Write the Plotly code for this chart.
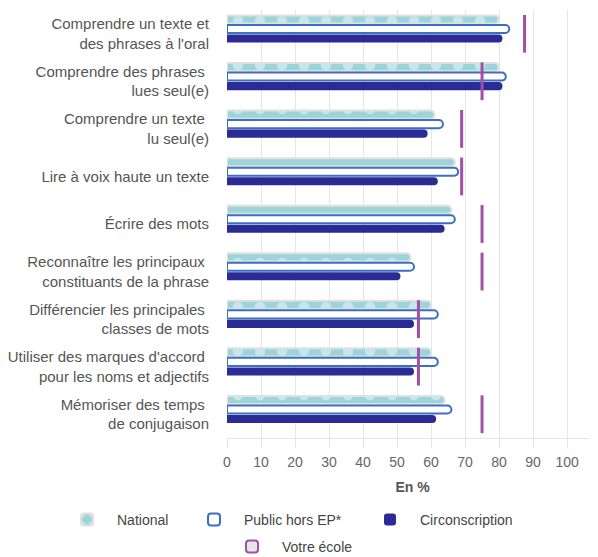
import plotly.graph_objects as go

categories = [
    "Comprendre un texte et<br>des phrases à l'oral",
    "Comprendre des phrases <br>lues seul(e)",
    "Comprendre un texte <br>lu seul(e)",
    "Lire à voix haute un texte",
    "Écrire des mots",
    "Reconnaître les principaux <br>constituants de la phrase",
    "Différencier les principales <br>classes de mots",
    "Utiliser des marques d'accord <br>pour les noms et adjectifs",
    "Mémoriser des temps <br>de conjugaison",
]
national = [80, 80, 61, 67, 66, 54, 60, 60, 64]
public_hors_ep = [83, 82, 63.5, 68, 67, 55, 62, 62, 66]
circonscription = [81, 81, 59, 62, 64, 51, 55, 55, 61.5]
votre_ecole = [87.5, 75, 69, 69, 75, 75, 56.3, 56.3, 75]
x_ticks = list(range(0, 101, 10))

TEAL = "#9dd4da"
BLUE = "#3b6fc3"
NAVY = "#2b2b95"
PURPLE = "#a24fa6"
GRID = "#e6e6e6"
TXT = "#555555"
# the page body adds an 8px offset; the figure fills the rest of the window
OFF = 8
W, H = 598 - OFF, 557 - OFF

fig = go.Figure()
fig.add_trace(go.Bar(
    name="National", y=categories, x=national, orientation="h",
    marker=dict(color=TEAL, line=dict(color="#e0e0e0", width=2),
                pattern=dict(shape=".", fgcolor="#eef8f9", size=22, solidity=0.18)),
    legend="legend",
))
fig.add_trace(go.Bar(
    name="Public hors EP*", y=categories, x=public_hors_ep, orientation="h",
    marker=dict(color="#ffffff", line=dict(color=BLUE, width=2)),
    legend="legend2",
))
fig.add_trace(go.Bar(
    name="Circonscription", y=categories, x=circonscription, orientation="h",
    marker=dict(color=NAVY, line=dict(width=0)),
    legend="legend3",
))
fig.add_trace(go.Scatter(
    name="Votre école", y=categories, x=votre_ecole, mode="markers",
    marker=dict(symbol="line-ns", size=27, line=dict(color=PURPLE, width=3), color=PURPLE),
    legendgroup="ecole", showlegend=False,
))
fig.add_trace(go.Bar(
    name="Votre école", y=[None], x=[None], orientation="h",
    marker=dict(color="#e6e6e6", line=dict(color=PURPLE, width=2)),
    legendgroup="ecole", legend="legend4", hoverinfo="skip",
))


def leg(x_left, y_mid):
    return dict(orientation="h", xref="container", yref="container",
                x=(x_left - OFF) / W, xanchor="left", y=1 - (y_mid - OFF) / H,
                yanchor="middle", font=dict(size=14, color="#444444"), itemwidth=50,
                bgcolor="rgba(0,0,0,0)")


fig.update_layout(
    width=W, height=H,
    margin=dict(l=227 - OFF, r=0, t=10 - OFF, b=557 - 438, autoexpand=False),
    paper_bgcolor="white", plot_bgcolor="white",
    barmode="group", bargap=0.2, bargroupgap=0.15, barcornerradius=5,
    font=dict(family="Liberation Sans, Arial, sans-serif", size=14, color=TXT),
    showlegend=True,
    legend=leg(57, 520),
    legend2=leg(184, 520),
    legend3=leg(360, 520),
    legend4=leg(222, 547),
)
fig.update_xaxes(
    range=[0, 109.1], tickvals=x_ticks, showgrid=True, gridcolor=GRID, gridwidth=1,
    zeroline=False, showline=True, linecolor=GRID, linewidth=1,
    ticks="outside", ticklen=9, tickcolor=GRID, automargin=False,
    ticklabelstandoff=2,
    tickfont=dict(size=14, color="#666666"),
    title=dict(text="<b>En %</b>", font=dict(size=14, color="#555555"), standoff=13),
)
fig.update_yaxes(
    categoryorder="array", categoryarray=categories,
    range=[len(categories) - 0.5, -0.5],
    showgrid=False, zeroline=False, showline=False, ticks="", automargin=False,
    ticklabelstandoff=17, tickfont=dict(size=15, color=TXT),
)

fig.write_html("out.html")
